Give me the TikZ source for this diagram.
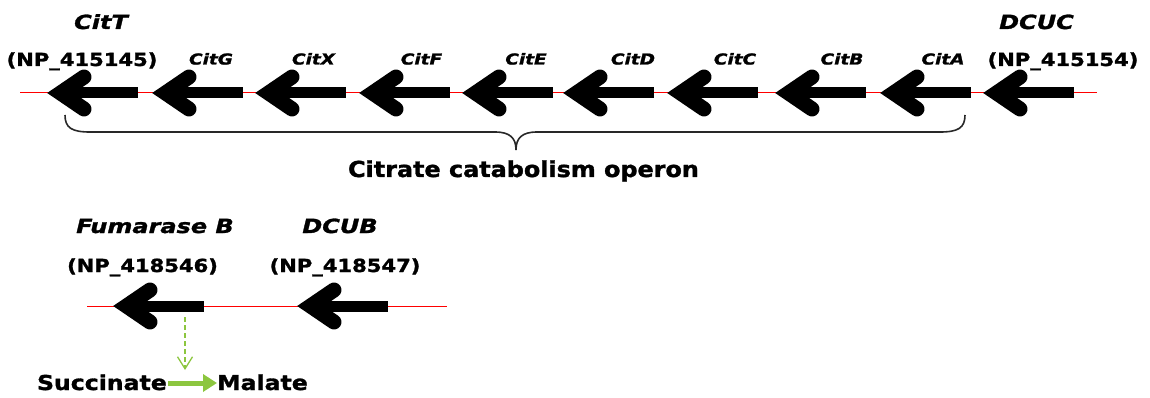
\documentclass[tikz,border=0pt]{standalone}
\usepackage{fontspec}
\setmainfont{DejaVu Sans}
\newfontfamily\genefont{DejaVu Sans}[FakeStretch=1.23,FakeBold=1.5]
\newfontfamily\npfont{DejaVu Sans}[FakeStretch=1.17,FakeBold=1.5]
\newfontfamily\opfont{DejaVu Sans}[FakeStretch=1.085,FakeBold=1.5]
\newfontfamily\rxfont{DejaVu Sans}[FakeStretch=1.15,FakeBold=1.5]
\usetikzlibrary{arrows.meta}
\definecolor{rxgreen}{RGB}{140,198,63}
\definecolor{bracegray}{RGB}{40,40,40}
\tikzset{
  gene/.pic={
    \fill (18,-5.5) rectangle (91,5.5);
    \fill (1,0) -- (30,-14) -- (30,14) -- cycle;
    \draw[line width=15pt, line cap=round, line join=miter] (37,-16) -- (13.5,0) -- (37,16);
  },
  bigname/.style={anchor=base, inner sep=0pt, font=\genefont\bfseries\itshape\fontsize{19.5}{20}\selectfont},
  smallname/.style={anchor=base, inner sep=0pt, font=\genefont\bfseries\itshape\fontsize{15}{16}\selectfont},
  acc/.style={anchor=base, inner sep=0pt, font=\npfont\bfseries\fontsize{18}{19}\selectfont},
  dna/.style={red, line width=1pt},
  rx/.style={anchor=base, inner sep=0pt, font=\rxfont\bfseries\fontsize{20.5}{21}\selectfont},
}
\begin{document}
\begin{tikzpicture}[x=1pt, y=-1pt]
\useasboundingbox (0,0) rectangle (1150,398);
% top DNA line
\coordinate (t0) at (20,93);
\coordinate (t1) at (1097,93);
\draw[dna] (t0) -- (t1);
% top genes
\foreach \tx/\nm in {47/citT,152/citG,255/citX,359/citF,462/citE,563/citD,667/citC,775/citB,880/citA,983/dcuC}
  \pic (\nm) at (\tx,93) {gene};
% top labels
\node[bigname] (lCitT) at (101,29) {CitT};
\node[acc] (nCitT) at (82,66) {(NP\_415145)};
\node[smallname] (lCitG) at (211,64.5) {CitG};
\node[smallname] (lCitX) at (313.5,64.5) {CitX};
\node[smallname] (lCitF) at (421.5,64.5) {CitF};
\node[smallname] (lCitE) at (526,64.5) {CitE};
\node[smallname] (lCitD) at (633,64.5) {CitD};
\node[smallname] (lCitC) at (735,64.5) {CitC};
\node[smallname] (lCitB) at (842,64.5) {CitB};
\node[smallname] (lCitA) at (943,64.5) {CitA};
\node[bigname] (lDCUC) at (1036.5,29) {DCUC};
\node[acc] (nDCUC) at (1063,66) {(NP\_415154)};
% brace
\coordinate (bl) at (65,115);
\coordinate (br) at (965,115);
\coordinate (bt) at (516,150);
\draw[bracegray, line width=1.6pt]
  (bl) .. controls (65,128) and (72,132) .. (90,132) -- (495,132)
       .. controls (510,132) and (516,138) .. (bt)
       .. controls (516,138) and (522,132) .. (537,132) -- (940,132)
       .. controls (958,132) and (965,128) .. (br);
\node[anchor=base, inner sep=0pt, font=\opfont\bfseries\fontsize{22}{23}\selectfont] (operon) at (523.5,177) {Citrate catabolism operon};
% bottom DNA line
\coordinate (b0) at (87,306);
\coordinate (b1) at (447,306);
\draw[dna] (b0) -- (b1);
\pic (fumB) at (113,306) {gene};
\pic (dcuB) at (297,306) {gene};
\node[bigname] (lFum) at (155,233) {Fumarase B};
\node[acc] (nFum) at (142.5,272) {(NP\_418546)};
\node[bigname] (lDCUB) at (340,233) {DCUB};
\node[acc] (nDCUB) at (345,272) {(NP\_418547)};
% reaction
\node[rx, anchor=base east] (succ) at (167,390) {Succinate};
\node[rx, anchor=base west] (mal) at (217,390) {Malate};
\draw[rxgreen, line width=5pt, -{Triangle[length=14pt,width=17pt]}, shorten <=1pt] (succ.east |- 0,383) -- (mal.west |- 0,383);
\coordinate (fumOut) at (185,317);
\coordinate (rxIn) at (185,370);
\draw[rxgreen, line width=1.3pt, dash pattern=on 5pt off 3pt, -{Straight Barb[length=12pt,width=15pt]}] (fumOut) -- (rxIn);
\end{tikzpicture}
\end{document}
